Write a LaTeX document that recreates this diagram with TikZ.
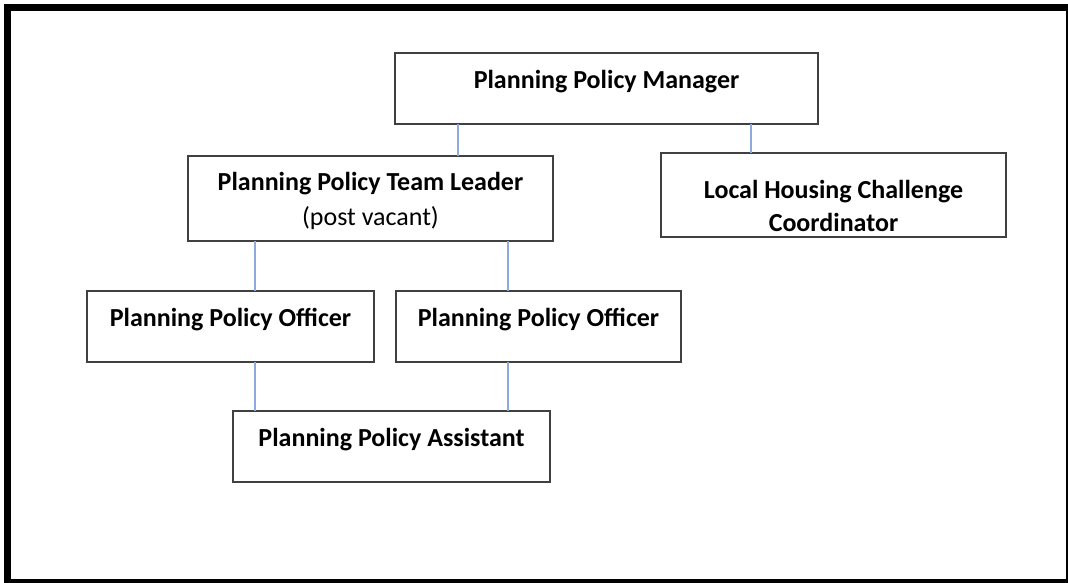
\documentclass[tikz,border=0pt]{standalone}
\usepackage{fontspec}
\setmainfont{Carlito}
\usetikzlibrary{calc}
\definecolor{boxline}{HTML}{404040}
\definecolor{connblue}{HTML}{8FAADC}
\tikzset{
  orgbox/.style={draw=boxline, line width=1.5pt, fill=white, rectangle, outer sep=0pt, inner sep=0pt},
  conn/.style={draw=connblue, line width=1.6pt},
  lbl/.style={anchor=base, inner sep=0pt, font=\fontsize{26}{31}\selectfont\bfseries, text=black},
  sub/.style={anchor=base, inner sep=0pt, font=\fontsize{26}{31}\selectfont, text=black}
}
\begin{document}
\begin{tikzpicture}[x=1pt, y=-1pt]
\useasboundingbox (0,0) rectangle (1068,583);
\fill[black] (4,4) rectangle (1068,583);
\fill[white] (11,11) rectangle (1066,579);
% boxes
\node[orgbox, minimum width=423pt, minimum height=71pt] (mgr) at (606.5,88.5) {};
\node[orgbox, minimum width=365pt, minimum height=85pt] (tl) at (370.5,198.5) {};
\node[orgbox, minimum width=345pt, minimum height=84pt] (lhc) at (833.5,195) {};
\node[orgbox, minimum width=287pt, minimum height=71pt] (off1) at (230.5,326.5) {};
\node[orgbox, minimum width=285pt, minimum height=71pt] (off2) at (538.5,326.5) {};
\node[orgbox, minimum width=317pt, minimum height=71pt] (asst) at (391.5,446.5) {};
% texts
\node[lbl] (mgrt) at (606.5,89) {Planning Policy Manager};
\node[lbl] (tlt) at (370.5,190) {Planning Policy Team Leader};
\node[sub] (tlt2) at (370.5,225) {(post vacant)};
\node[lbl] (lhct) at (833.5,198) {Local Housing Challenge};
\node[lbl] (lhct2) at (833.5,231) {Coordinator};
\node[lbl] (off1t) at (230.5,326) {Planning Policy Officer};
\node[lbl] (off2t) at (538.5,326) {Planning Policy Officer};
\node[lbl] (asstt) at (391.5,446) {Planning Policy Assistant};
% connectors
\draw[conn] ([xshift=87.5pt]tl.north) -- ([xshift=87.5pt]tl.north |- mgr.south);
\draw[conn] ([xshift=-82.5pt]lhc.north) -- ([xshift=-82.5pt]lhc.north |- mgr.south);
\draw[conn] ([xshift=24.5pt]off1.north) -- ([xshift=24.5pt]off1.north |- tl.south);
\draw[conn] ([xshift=-30.5pt]off2.north) -- ([xshift=-30.5pt]off2.north |- tl.south);
\draw[conn] ([xshift=24.5pt]off1.south) -- ([xshift=24.5pt]off1.south |- asst.north);
\draw[conn] ([xshift=-30.5pt]off2.south) -- ([xshift=-30.5pt]off2.south |- asst.north);
\end{tikzpicture}
\end{document}
